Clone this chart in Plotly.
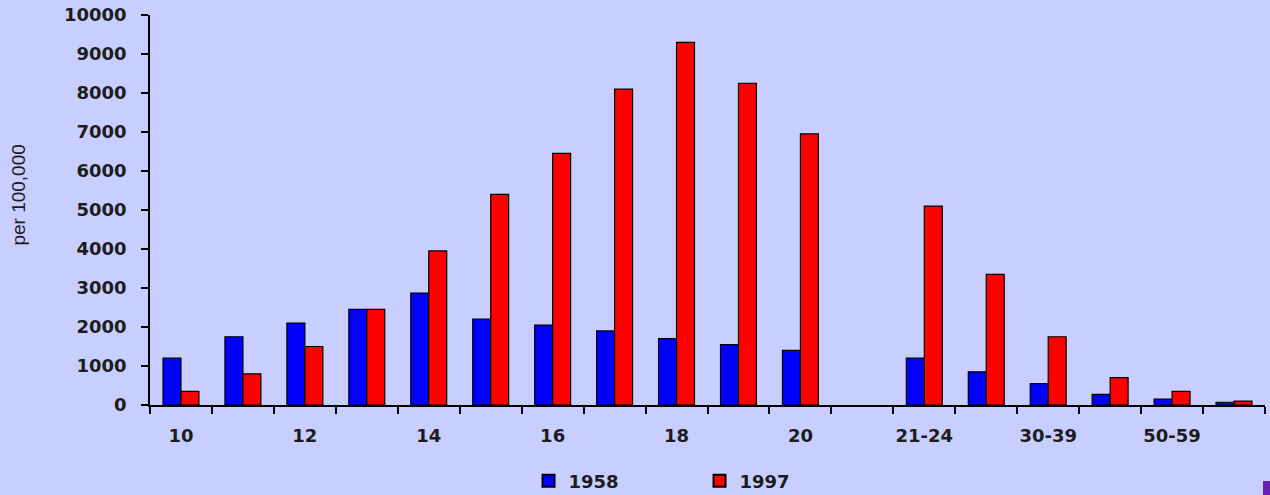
import plotly.graph_objects as go

# Age groups (one empty slot separates single years from age bands)
categories = ["10", "11", "12", "13", "14", "15", "16", "17", "18", "19", "20",
              " ", "21-24", "25-29", "30-39", "40-49", "50-59", "60+"]
tick_labels = ["10", "", "12", "", "14", "", "16", "", "18", "", "20",
               "", "21-24", "", "30-39", "", "50-59", ""]

# Rates per 100,000
rates_1958 = [1200, 1750, 2100, 2450, 2870, 2200, 2050, 1900, 1700, 1550, 1400,
              None, 1200, 850, 550, 275, 150, 70]
rates_1997 = [350, 800, 1500, 2450, 3950, 5400, 6450, 8100, 9300, 8250, 6950,
              None, 5100, 3350, 1750, 700, 350, 100]

BG = "#C8CEFF"
TEXT = "#1c1c1c"

fig = go.Figure()
fig.add_trace(go.Bar(x=categories, y=rates_1958, name="1958",
                     marker=dict(color="#0000FF", line=dict(color="black", width=1.2))))
fig.add_trace(go.Bar(x=categories, y=rates_1997, name="1997",
                     marker=dict(color="#FF0000", line=dict(color="black", width=1.2))))

fig.update_layout(
    width=1270, height=495,
    paper_bgcolor=BG, plot_bgcolor=BG,
    margin=dict(l=150, r=5, t=15, b=90, autoexpand=False),
    barmode="group", bargap=0.42, bargroupgap=0,
    showlegend=True,
    legend=dict(orientation="h", x=0.3395, y=-(481 - 405) / 390,
                xanchor="left", yanchor="middle",
                font=dict(family="DejaVu Sans", size=18, color=TEXT, weight="bold"),
                bgcolor="rgba(0,0,0,0)", entrywidth=126, entrywidthmode="pixels",
                itemsizing="constant"),
    font=dict(family="DejaVu Sans", color=TEXT),
)

fig.update_xaxes(
    type="category", categoryorder="array", categoryarray=categories,
    tickmode="array", tickvals=categories, ticktext=tick_labels, tickangle=0,
    tickson="boundaries", ticks="outside", ticklen=7, tickwidth=1.5, tickcolor="black",
    showline=True, linecolor="black", linewidth=1.5,
    showgrid=False, zeroline=False, automargin=False,
    tickfont=dict(family="DejaVu Sans", size=18, color=TEXT, weight="bold"),
    ticklabelstandoff=14,
    range=[-0.5, len(categories) - 0.5],
)

fig.update_yaxes(
    range=[0, 10000], tickmode="linear", tick0=0, dtick=1000, tickformat="d",
    ticks="outside", ticklen=7, tickwidth=1.5, tickcolor="black",
    showline=True, linecolor="black", linewidth=1.5,
    showgrid=False, zeroline=False, automargin=False,
    tickfont=dict(family="DejaVu Sans", size=18, color=TEXT, weight="bold"),
    ticklabelstandoff=11,
)

# Axis title
fig.add_annotation(text="per 100,000", textangle=-90, xref="paper", yref="paper",
                   x=-0.118, y=0.538, xanchor="center", yanchor="middle", showarrow=False,
                   font=dict(family="Liberation Sans", size=19, color=TEXT))

# Small purple corner mark
fig.add_shape(type="rect", xref="paper", yref="paper",
              x0=(1263 - 150) / 1115, x1=(1270 - 150) / 1115,
              y0=-(481 - 405) / 390, y1=-(495 - 405) / 390,
              fillcolor="#6a1fb0", line=dict(width=0), layer="above")

fig.write_html("out.html")
